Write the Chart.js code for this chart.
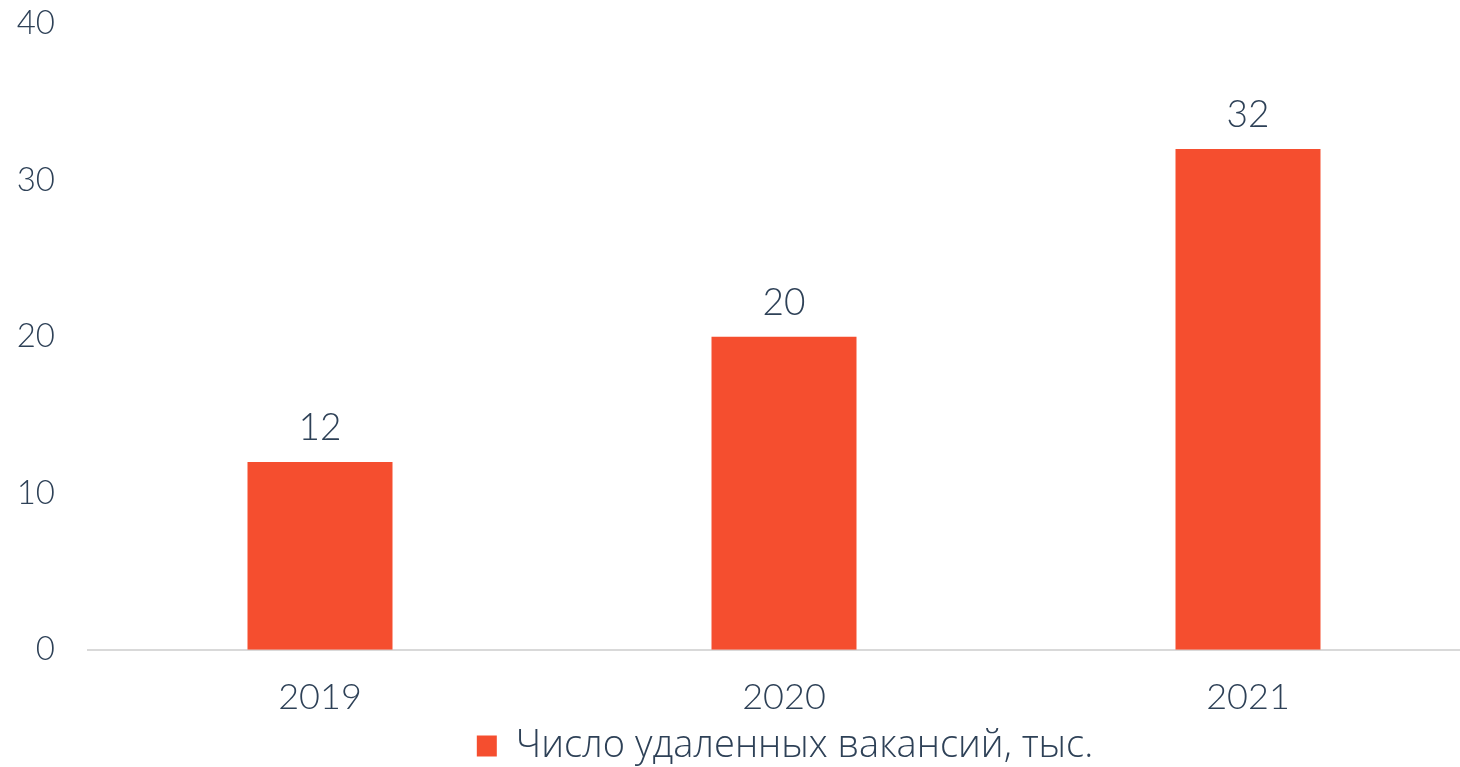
<!DOCTYPE html>
<html>
<head>
<meta charset="utf-8">
<script src="https://cdn.jsdelivr.net/npm/chart.js@4"></script>
<style>
  html, body { margin: 0; padding: 0; background: #fff; overflow: hidden; }
  #wrap { width: 1480px; height: 788px; margin-top: -21px; }
</style>
</head>
<body>
<div id="wrap"><canvas id="chart"></canvas></div>
<script>
const years = ['2019', '2020', '2021'];
const vacancies = [12, 20, 32];
const yTicks = [0, 10, 20, 30, 40];

const textColor = '#2e4157';
const barColor = '#f54e2f';

// подписи значений над столбцами
const valueLabels = {
    id: 'valueLabels',
    afterDatasetsDraw(chart) {
        const ctx = chart.ctx;
        const meta = chart.getDatasetMeta(0);
        ctx.save();
        ctx.font = '300 37px Lato';
        ctx.fillStyle = textColor;
        ctx.textAlign = 'center';
        ctx.textBaseline = 'alphabetic';
        meta.data.forEach((bar, i) => {
            ctx.fillText(vacancies[i], bar.x, bar.y - 22);
        });
        ctx.restore();
    }
};

// легенда в оригинале сдвинута вправо и ближе к оси
const shiftLegend = {
    id: 'shiftLegend',
    afterLayout(chart) {
        const lg = chart.legend;
        lg.left += 45;
        lg.right += 45;
        lg.top -= 10;
        lg.bottom -= 10;
    }
};

const ctx = document.getElementById('chart').getContext('2d');
new Chart(ctx, {
    type: 'bar',
    data: {
        labels: years,
        datasets: [{
            label: 'Число удаленных вакансий, тыс.',
            data: vacancies,
            backgroundColor: barColor,
            barPercentage: 0.3125,
            categoryPercentage: 1,
        }],
    },
    options: {
        responsive: true,
        maintainAspectRatio: false,
        animation: false,
        layout: { padding: { top: 0, left: 0, right: 0, bottom: -18 } },
        plugins: {
            tooltip: { enabled: false },
            legend: {
                position: 'bottom',
                labels: {
                    color: textColor,
                    font: { family: 'Open Sans', size: 38, weight: '300', lineHeight: 1 },
                    boxWidth: 20,
                    boxHeight: 21,
                    padding: 0,
                },
            },
        },
        scales: {
            x: {
                grid: { display: false },
                border: { color: '#d9d9d9', width: 2 },
                ticks: {
                    color: textColor,
                    font: { family: 'Lato', size: 36, weight: '300' },
                    padding: 18,
                },
            },
            y: {
                min: 0,
                max: 40,
                afterBuildTicks(axis) {
                    axis.ticks = yTicks.map(v => ({ value: v }));
                },
                grid: { display: false },
                border: { display: false },
                afterFit(axis) { axis.width = 88; },
                ticks: {
                    color: textColor,
                    font: { family: 'Lato', size: 33, weight: '300' },
                    padding: 25,
                },
            },
        },
    },
    plugins: [valueLabels, shiftLegend],
});
</script>
</body>
</html>
